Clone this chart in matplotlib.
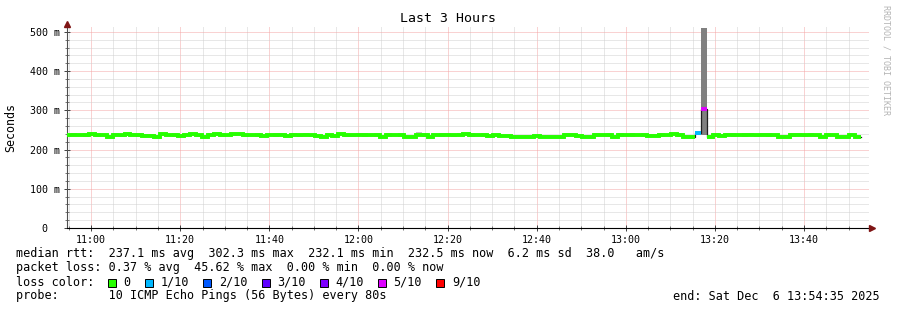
import numpy as np
import matplotlib
matplotlib.use('Agg')
import matplotlib.pyplot as plt
import matplotlib.dates as mdates
from matplotlib.lines import Line2D
from matplotlib.patches import Rectangle

W, H = 897, 310
DPI = 100
MONO = 'DejaVu Sans Mono'
CW = 7.07  # width of one mono char in px

# graph window and rrd bins (one value per 80s step)
t_start = np.datetime64('2025-12-06T10:54:35')
t_end = np.datetime64('2025-12-06T13:54:35')
first_bin = np.datetime64('2025-12-06T10:54:10')
step_sec = 80

median_ms = [
    236.5, 237, 236.5, 236.5, 239.5, 237, 237, 232.5, 237, 236.5,
    239.5, 237, 237, 235, 235, 232.5, 239.5, 237, 237, 235,
    237, 239.5, 237, 232.5, 237, 238.5, 237, 237, 239.5, 239.5,
    237, 237, 237, 235, 237, 237, 237, 234, 237, 237,
    237, 237, 234, 232.5, 237, 235, 240, 237, 237, 237,
    237, 237, 237, 232.5, 237, 237, 237, 232.5, 232.5, 237,
    237, 232.3, 237, 237.5, 237, 237, 237, 238.5, 237, 237,
    237, 235, 236.5, 234, 234, 232.5, 232.5, 232.5, 232.5, 234,
    232.5, 232.5, 232.5, 232.5, 237, 237, 234, 232.5, 232.5, 237,
    237, 237, 232.5, 237, 237, 237, 237, 237, 235, 235,
    237, 237, 239.5, 237, 232.5, 232.5, 243, 302.3, 232.1, 236.5,
    235.5, 237, 237, 237, 237, 237, 237, 237, 237, 237,
    232.5, 232.5, 237, 237, 237, 237, 237, 232.5, 237, 237,
    232.5, 232.5, 237.5, 232.5,
]
loss_of_10 = [0] * 106 + [1, 5] + [0] * 26

smoke_lo_ms = [
    233, 234, 234, 233, 235, 233, 234, 231, 234, 233,
    235, 234, 233, 232, 232, 231, 235, 234, 233, 232,
    234, 235, 233, 231, 234, 235, 233, 234, 235, 236,
    233, 234, 233, 232, 234, 233, 234, 231, 234, 233,
    234, 233, 232, 231, 233, 232, 236, 233, 233, 234,
    233, 234, 233, 231, 233, 234, 233, 231, 231, 234,
    233, 230, 234, 233, 234, 233, 234, 235, 233, 234,
    233, 232, 233, 232, 231, 231, 231, 230, 231, 232,
    231, 230, 231, 231, 233, 234, 232, 231, 230, 233,
    234, 233, 231, 233, 234, 233, 234, 233, 232, 232,
    233, 234, 236, 233, 231, 231, 236, 238, 230, 233,
    232, 234, 233, 234, 233, 234, 233, 234, 233, 234,
    231, 231, 233, 234, 233, 234, 233, 231, 233, 234,
    231, 231, 234, 231,
]
smoke_hi_ms = [
    240, 241, 240, 241, 242, 241, 240, 237, 241, 240,
    242, 241, 241, 239, 239, 236, 242, 240, 241, 239,
    241, 242, 240, 237, 241, 242, 241, 240, 242, 243,
    241, 240, 241, 239, 240, 241, 242, 238, 241, 240,
    241, 240, 238, 237, 240, 239, 243, 241, 240, 243,
    241, 240, 241, 237, 241, 240, 241, 238, 237, 244,
    241, 236, 240, 242, 241, 240, 241, 243, 241, 240,
    241, 239, 240, 238, 238, 237, 237, 236, 237, 238,
    237, 236, 237, 237, 241, 242, 238, 237, 236, 241,
    240, 241, 237, 241, 240, 241, 240, 241, 239, 239,
    241, 240, 243, 241, 237, 237, 247, 510, 237, 241,
    239, 242, 241, 240, 241, 241, 240, 241, 241, 240,
    237, 237, 241, 242, 240, 241, 240, 237, 241, 240,
    237, 237, 241, 237,
]

loss_levels = [0, 1, 2, 3, 4, 5, 9]
loss_labels = ['0', '1/10', '2/10', '3/10', '4/10', '5/10', '9/10']
loss_colors = ['#26ff00', '#00b8ff', '#0059ff', '#5e00ff', '#7e00ff', '#dd00ff', '#ff0000']

rtt_stats = ['237.1 ms avg', '302.3 ms max', '232.1 ms min', '232.5 ms now', '6.2 ms sd', '38.0   am/s']
loss_stats = ['0.37 % avg', '45.62 % max', '0.00 % min', '0.00 % now']
probe_text = '10 ICMP Echo Pings (56 Bytes) every 80s'
end_text = 'end: Sat Dec  6 13:54:35 2025'

y_ticks = [0, 100, 200, 300, 400, 500]


def fx(px):
    return px / W


def fy(py):
    return 1 - py / H


med = np.array(median_ms, dtype=float)
loss = np.array(loss_of_10)
lo = np.array(smoke_lo_ms, dtype=float)
hi = np.array(smoke_hi_ms, dtype=float)
n = len(med)
edges = mdates.date2num(first_bin + np.arange(n + 1) * np.timedelta64(step_sec, 's'))

fig = plt.figure(figsize=(W / DPI, H / DPI), dpi=DPI)
ax = fig.add_axes([fx(67), fy(228), 802 / W, 202 / H])

# smoke
smoke_cols = ['#808080' if l >= 5 else '#c4c4c4' for l in loss]
ax.bar(edges[:-1], hi - lo, bottom=lo, width=step_sec / 86400.0, align='edge',
       color=smoke_cols, linewidth=0, antialiased=False, zorder=2)

# median, thin dark line + colored by loss
ax.step(edges, np.append(med, med[-1]), where='post', color='#202020', lw=0.9, zorder=3)
for lvl, col in zip(loss_levels, loss_colors):
    y = np.where(loss == lvl, med, np.nan)
    if np.all(np.isnan(y)):
        continue
    ax.step(edges, np.append(y, y[-1]), where='post', color=col, lw=2.8,
            solid_capstyle='butt', solid_joinstyle='miter', zorder=4)

ax.set_xlim(mdates.date2num(t_start), mdates.date2num(t_end))
ax.set_ylim(0, 515)
ax.xaxis_date()
ax.xaxis.set_major_locator(mdates.MinuteLocator(byminute=[0, 20, 40]))
ax.xaxis.set_minor_locator(mdates.MinuteLocator(byminute=range(0, 60, 5)))
ax.xaxis.set_major_formatter(mdates.DateFormatter('%H:%M'))
ax.set_yticks(y_ticks)
ax.set_yticks(range(0, 501, 20), minor=True)
ax.set_yticklabels(['0  ' if v == 0 else '%d m' % v for v in y_ticks])

ax.set_axisbelow(True)
ax.grid(which='major', color='#f4a6a6', ls=(0, (1, 1)), lw=0.72)
ax.grid(which='minor', color='#d0d0d0', ls=(0, (1, 1)), lw=0.72)

for s in ['top', 'right']:
    ax.spines[s].set_visible(False)
ax.spines['left'].set_color('#505050')
ax.spines['bottom'].set_color('#000000')
ax.tick_params(which='major', direction='inout', length=4, width=0.7, color='#404040',
               labelsize=7.2, pad=3)
ax.tick_params(which='minor', direction='inout', length=3, width=0.6, color='#606060')
for lab in ax.get_xticklabels() + ax.get_yticklabels():
    lab.set_family(MONO)

# axis arrows
fig.add_artist(Line2D([fx(67)], [fy(23.5)], marker='^', markersize=4.5, color='#7f1515',
                      linestyle='none', transform=fig.transFigure))
fig.add_artist(Line2D([fx(871.5)], [fy(228)], marker='>', markersize=4.5, color='#7f1515',
                      linestyle='none', transform=fig.transFigure))

fig.text(fx(448), fy(19), 'Last 3 Hours', ha='center', va='center', size=9.5, family=MONO)
fig.text(fx(11), fy(127), 'Seconds', rotation=90, ha='center', va='center', size=8.4, family=MONO)
fig.text(fx(886), fy(5), 'RRDTOOL / TOBI OETIKER', rotation=270, ha='center', va='top',
         size=6, color='#b4b4b4', family=MONO)

# legend block
fig.text(fx(16), fy(254), 'median rtt:  ' + '  '.join(rtt_stats), va='center', size=8.45, family=MONO)
fig.text(fx(16), fy(268), 'packet loss: ' + '  '.join(loss_stats), va='center', size=8.45, family=MONO)
fig.text(fx(16), fy(282), 'loss color:', va='center', size=8.45, family=MONO)
bx = 16 + 13 * CW
for lab, col in zip(loss_labels, loss_colors):
    fig.add_artist(Rectangle((fx(bx), fy(286.5)), 8 / W, 8 / H, facecolor=col,
                             edgecolor='black', lw=0.7, transform=fig.transFigure))
    tx = bx + 15.5
    fig.text(fx(tx), fy(282), lab, va='center', size=8.45, family=MONO)
    bx = tx + len(lab) * CW + 14.5
fig.text(fx(16), fy(296), 'probe:       ' + probe_text, va='center', size=8.45, family=MONO)
fig.text(fx(880), fy(296), end_text, ha='right', va='center', size=8.45, family=MONO)

fig.savefig('out.png', dpi=DPI, facecolor='white')
